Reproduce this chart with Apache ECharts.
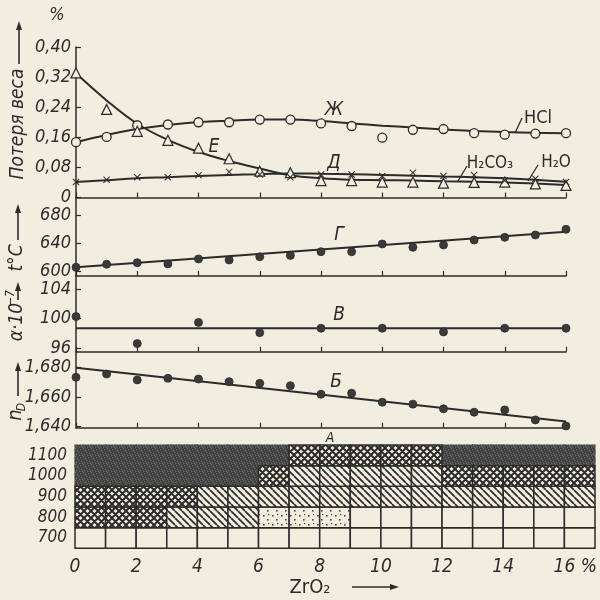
<!DOCTYPE html>
<html><head><meta charset="utf-8">
<script src="https://cdn.jsdelivr.net/npm/echarts@6/dist/echarts.min.js"></script>
<style>html,body{margin:0;padding:0;background:#f1eee0}#c{width:600px;height:600px}</style>
</head><body><div id="c"></div>
<script>
// ---------- data ----------
const zrO2 = [0,1,2,3,4,5,6,7,8,9,10,11,12,13,14,15,16];
// weight loss, %
const hclPoints   = [0.147,0.161,0.192,0.194,0.200,0.200,0.207,0.207,0.197,0.190,0.159,0.180,0.182,0.171,0.167,0.170,0.171];
const hclCurve    = [0.147,0.166,0.182,0.193,0.200,0.204,0.207,0.207,0.203,0.197,0.191,0.186,0.181,0.177,0.174,0.172,0.171];
const h2oPoints   = [0.331,0.234,0.176,0.152,0.131,0.103,0.070,0.066,0.045,0.045,0.041,0.041,0.038,0.040,0.041,0.036,0.032];
const h2oCurve    = [0.330,0.258,0.196,0.153,0.121,0.097,0.077,0.059,0.051,0.047,0.046,0.045,0.043,0.042,0.040,0.037,0.033];
const h2co3Points = [0.041,0.047,0.054,0.054,0.059,0.068,0.061,0.054,0.061,0.061,0.057,0.066,0.057,0.060,0.045,0.050,0.041];
const h2co3Curve  = [0.041,0.046,0.051,0.054,0.057,0.060,0.062,0.064,0.063,0.062,0.060,0.058,0.056,0.054,0.051,0.047,0.042];
// softening temperature, °C
const tempPoints = [606.2,610.5,612.7,611.0,618.0,616.5,621.0,623.0,628.2,628.2,639.1,634.4,637.7,644.7,648.5,651.8,659.8];
const lineX = [0,16];
const tempLine = [606.2,656.4];
// thermal expansion alpha*10^-7
const alphaX = [0,2,4,6,8,10,12,14,16];
const alphaPoints = [100.3,96.6,99.5,98.1,98.7,98.7,98.2,98.7,98.7];
const alphaLine = [98.7,98.7];
// refractive index nD
const ndPoints = [1.6735,1.6757,1.6717,1.6728,1.6723,1.6705,1.6694,1.6678,1.6620,1.6627,1.6566,1.6553,1.6521,1.6498,1.6514,1.6446,1.6405];
const ndLine = [1.6800,1.6435];
// tick labels
const lossTicks = [0,0.08,0.16,0.24,0.32,0.40];
const lossLabels = ['0','0,08','0,16','0,24','0,32','0,40'];
const tempTicks = [600,640,680];
const tempLabels = ['600','640','680'];
const alphaTicks = [96,100,104];
const alphaLabels = ['96','100','104'];
const ndTicks = [1.640,1.660,1.680];
const ndLabels = ['1,640','1,660','1,680'];
const xTicks = [0,2,4,6,8,10,12,14,16];
const xLabels = ['0','2','4','6','8','10','12','14','16'];
// crystallisation phases (A): rows by temperature, one code per 1% ZrO2 column (0..16)
// D = dense, X = cross-hatched, S = hatched, P = dotted, E = clear
const phaseTemps = ['700','800','900','1000','1100'];
const phase700  = ['E','E','E','E','E','E','E','E','E','E','E','E','E','E','E','E','E'];
const phase800  = ['X','X','X','S','S','S','P','P','P','E','E','E','E','E','E','E','E'];
const phase900  = ['X','X','X','X','S','S','S','S','S','S','S','S','S','S','S','S','S'];
const phase1000 = ['D','D','D','D','D','D','X','S','S','S','S','S','X','X','X','X','X'];
const phase1100 = ['D','D','D','D','D','D','D','X','X','X','X','X','D','D','D','D','D'];

// ---------- style ----------
const ink = '#2b2b2b';
const paper = '#f1eee0';
const F = "'Liberation Sans Narrow','DejaVu Sans Condensed','DejaVu Sans',sans-serif";

function pattern(kind){
  const c = document.createElement('canvas');
  let s = 7;
  if (kind === 'P') s = 9;
  if (kind === 'D') s = 8;
  c.width = s; c.height = s;
  const g = c.getContext('2d');
  g.fillStyle = paper; g.fillRect(0,0,s,s);
  g.strokeStyle = ink; g.fillStyle = ink;
  if (kind === 'D') {
    g.fillStyle = '#4a4a4b'; g.fillRect(0,0,s,s);
    g.fillStyle = '#6c6b6a';
    [[0,1],[3,0],[6,4],[1,5],[5,2],[7,7],[2,7],[4,6]].forEach(p => g.fillRect(p[0],p[1],1,1));
    g.fillStyle = '#303031';
    [[2,2],[5,5],[0,4],[3,4],[7,1],[6,7],[1,0]].forEach(p => g.fillRect(p[0],p[1],1,1));
  } else if (kind === 'X') {
    g.lineWidth = 2;
    g.beginPath();
    [-s,0,s].forEach(k => { g.moveTo(k,0); g.lineTo(k+s,s); g.moveTo(k,s); g.lineTo(k+s,0); });
    g.stroke();
  } else if (kind === 'S') {
    g.lineWidth = 1.7;
    g.beginPath();
    [-s,0,s].forEach(k => { g.moveTo(k,0); g.lineTo(k+s,s); });
    g.stroke();
  } else if (kind === 'P') {
    g.fillStyle = '#444';
    g.fillRect(2,2,1.6,1.6); g.fillRect(6,6,1.6,1.6); g.fillRect(7,1,1.2,1.2);
  }
  return {image: c, repeat: 'repeat'};
}
const codes = ['E','P','S','X','D'];
const fills = codes.map(k => k === 'E' ? paper : pattern(k));

const phaseRows = [phase700, phase800, phase900, phase1000, phase1100];
const phaseData = [];
phaseRows.forEach((row, r) => row.forEach((code, c) => phaseData.push([c, r, codes.indexOf(code)])));

function labelFor(ticks, labels){
  return v => { let b = 0; ticks.forEach((t,i) => { if (Math.abs(t-v) < Math.abs(ticks[b]-v)) b = i; }); return labels[b]; };
}
const pair = (xs, ys) => xs.map((x,i) => [x, ys[i]]);

const lblStyle = {color: ink, fontFamily: F, fontStyle: 'italic', fontSize: 18};

function xAx(gi){
  return {gridIndex: gi, type: 'value', min: 0, max: 16, interval: 2,
    axisLine: {show: true, lineStyle: {color: ink, width: 1.5}},
    axisTick: {show: true, inside: true, length: 5, lineStyle: {color: ink, width: 1.2}},
    axisLabel: {show: false}, splitLine: {show: false}};
}
function yAx(gi, min, max, ticks, labels, extra){
  return {gridIndex: gi, type: 'value', min: min, max: max,
    axisLine: {show: true, lineStyle: {color: ink, width: 1.5}},
    axisTick: {show: true, inside: true, length: 5, customValues: ticks, lineStyle: {color: ink, width: 1.2}},
    axisLabel: Object.assign({customValues: ticks, formatter: labelFor(ticks, labels), margin: 5}, lblStyle, extra || {}),
    splitLine: {show: false}};
}

const lineS = (xi, data) => ({type: 'line', xAxisIndex: xi, yAxisIndex: xi, data: data, showSymbol: false, symbol: 'none',
  lineStyle: {color: ink, width: 2}, z: 2, animation: false});
const dotS = (xi, data) => ({type: 'scatter', xAxisIndex: xi, yAxisIndex: xi, data: data, symbol: 'circle', symbolSize: 8,
  itemStyle: {color: '#3a3a39', borderColor: ink, borderWidth: 0.8, opacity: 1}, z: 3, animation: false});

const crossPath = 'path://M0,1L1,0L5,4L9,0L10,1L6,5L10,9L9,10L5,6L1,10L0,9L4,5Z';

const gfx = [];
function txt(x, y, s, size, opt){
  gfx.push(Object.assign({type: 'text', x: x, y: y, style: Object.assign({text: s, fill: ink, font: (opt && opt.upright ? '' : 'italic ') + size + 'px ' + F, textAlign: 'center', textVerticalAlign: 'middle'}, (opt && opt.style) || {})}, (opt && opt.el) || {}));
}
function arrowUp(x, y0, y1){ // y0 bottom, y1 tip
  gfx.push({type: 'line', shape: {x1: x, y1: y0, x2: x, y2: y1 + 6}, style: {stroke: ink, lineWidth: 1.6}});
  gfx.push({type: 'polygon', shape: {points: [[x, y1], [x - 3, y1 + 9], [x + 3, y1 + 9]]}, style: {fill: ink}});
}
function vText(x, y, s, size, sub){
  const children = [{type: 'text', x: 0, y: 0, style: {text: s, fill: ink, font: 'italic ' + size + 'px ' + F, textAlign: 'center', textVerticalAlign: 'middle'}}];
  if (sub) children.push({type: 'text', x: sub.dx, y: sub.dy, style: {text: sub.text, fill: ink, font: 'italic ' + sub.size + 'px ' + F, textAlign: 'center', textVerticalAlign: 'middle'}});
  gfx.push({type: 'group', x: x, y: y, rotation: Math.PI / 2, children: children});
}
// axis titles
txt(57, 15, '%', 18);
vText(18, 124, 'Потеря веса', 19);
arrowUp(19, 64, 21);
vText(17, 258, 't°C', 19);
arrowUp(18, 240, 204);
vText(17, 322, 'α·10', 19, {text: '−7', size: 12, dx: 24, dy: -6});
arrowUp(18, 300, 282);
vText(16, 415, 'n', 20, {text: 'D', size: 12, dx: 8, dy: 6});
arrowUp(18, 396, 362);
// curve letters
txt(214, 147, 'E', 19);
txt(334, 110, 'Ж', 19);
txt(334, 163, 'Д', 19);
txt(339, 235, 'Г', 19);
txt(339, 315, 'В', 19);
txt(336, 382, 'Б', 19);
txt(330, 438, 'А', 14);
txt(538, 118, 'HCl', 18, {upright: true});
txt(490, 164, 'H₂CO₃', 17, {upright: true});
txt(556, 163, 'H₂O', 17, {upright: true});
[[515,133,522,118],[458,181,467,166],[528,181,538,165]].forEach(l =>
  gfx.push({type: 'line', shape: {x1: l[0], y1: l[1], x2: l[2], y2: l[3]}, style: {stroke: ink, lineWidth: 1.3}}));
// x title
txt(310, 588, 'ZrO₂', 20, {upright: true});
gfx.push({type: 'line', shape: {x1: 352, y1: 587, x2: 392, y2: 587}, style: {stroke: ink, lineWidth: 1.6}});
gfx.push({type: 'polygon', shape: {points: [[399, 587], [390, 584], [390, 590]]}, style: {fill: ink}});

const option = {
  backgroundColor: paper,
  animation: false,
  grid: [
    {left: 76, width: 490, top: 47, height: 150.5},
    {left: 76, width: 490, top: 197.5, height: 78.5},
    {left: 76, width: 490, top: 276, height: 75.7},
    {left: 76, width: 490, top: 351.7, height: 76},
    {left: 75, width: 520, top: 445, height: 103.3}
  ],
  xAxis: [
    xAx(0), xAx(1), xAx(2), xAx(3),
    {gridIndex: 4, type: 'value', min: 0, max: 17,
      axisLine: {show: false}, axisTick: {show: false}, splitLine: {show: false},
      axisLabel: Object.assign({customValues: xTicks.concat([16.8]), margin: 9,
        formatter: v => v > 16.5 ? '%' : labelFor(xTicks, xLabels)(v)}, lblStyle, {fontSize: 19})}
  ],
  yAxis: [
    yAx(0, 0, 0.40, lossTicks, lossLabels, {padding: [0,0,10,0]}),
    yAx(1, 593.9, 704.7, tempTicks, tempLabels),
    yAx(2, 95.49, 105.85, alphaTicks, alphaLabels, {padding: [4,0,0,0]}),
    yAx(3, 1.63932, 1.69085, ndTicks, ndLabels),
    {gridIndex: 4, type: 'category', data: phaseTemps,
      axisLine: {show: false}, axisTick: {show: false}, splitLine: {show: false},
      axisLabel: Object.assign({margin: 8, interval: 0}, lblStyle, {fontSize: 17})}
  ],
  series: [
    Object.assign(lineS(0, pair(zrO2, hclCurve)), {smooth: 0.4}),
    Object.assign(lineS(0, pair(zrO2, h2oCurve)), {smooth: 0.4}),
    Object.assign(lineS(0, pair(zrO2, h2co3Curve)), {smooth: 0.4}),
    {type: 'scatter', xAxisIndex: 0, yAxisIndex: 0, data: pair(zrO2, hclPoints), symbol: 'circle', symbolSize: 9,
      itemStyle: {color: paper, borderColor: ink, borderWidth: 1.3, opacity: 1}, z: 3},
    {type: 'scatter', xAxisIndex: 0, yAxisIndex: 0, data: pair(zrO2, h2oPoints), symbol: 'triangle', symbolSize: 10,
      itemStyle: {color: paper, borderColor: ink, borderWidth: 1.2, opacity: 1}, z: 3},
    {type: 'scatter', xAxisIndex: 0, yAxisIndex: 0, data: pair(zrO2, h2co3Points), symbol: crossPath, symbolSize: 7,
      itemStyle: {color: ink, opacity: 1}, z: 4},
    lineS(1, pair(lineX, tempLine)),
    dotS(1, pair(zrO2, tempPoints)),
    lineS(2, pair(lineX, alphaLine)),
    dotS(2, pair(alphaX, alphaPoints)),
    lineS(3, pair(lineX, ndLine)),
    dotS(3, pair(zrO2, ndPoints)),
    {type: 'custom', xAxisIndex: 4, yAxisIndex: 4, data: phaseData, encode: {x: 0, y: 1},
      renderItem: function(params, api){
        const p = api.coord([api.value(0), api.value(1)]);
        const sz = api.size([1, 1]);
        const dense = codes[api.value(2)] === 'D';
        const pad = dense ? 0.6 : 0;
        return {type: 'rect', shape: {x: p[0] - pad, y: p[1] - sz[1] / 2 - pad, width: sz[0] + 2 * pad, height: sz[1] + 2 * pad},
          z2: dense ? 0 : 1,
          style: {fill: fills[api.value(2)], stroke: dense ? null : ink, lineWidth: dense ? 0 : 1.5}};
      }}
  ],
  graphic: gfx
};
const chart = echarts.init(document.getElementById('c'), null, {renderer: 'canvas'});
chart.setOption(option);
</script>
</body></html>
